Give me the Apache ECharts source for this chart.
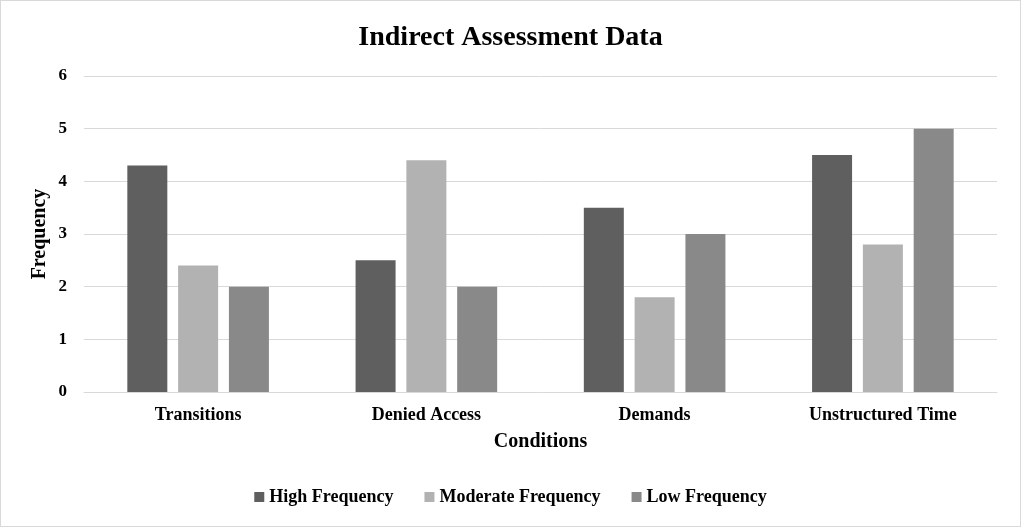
<!DOCTYPE html>
<html><head><meta charset="utf-8">
<script src="https://cdn.jsdelivr.net/npm/echarts@6/dist/echarts.min.js"></script>
<style>html,body{margin:0;padding:0;background:#fff}#c{width:1021px;height:527px;box-sizing:border-box;border:1px solid #d9d9d9}</style>
</head><body><div id="c"></div>
<script>
const categories = ['Transitions', 'Denied Access', 'Demands', 'Unstructured Time'];
const highFrequency = [4.3, 2.5, 3.5, 4.5];
const moderateFrequency = [2.4, 4.4, 1.8, 2.8];
const lowFrequency = [2.0, 2.0, 3.0, 5.0];
const yTicks = [0, 1, 2, 3, 4, 5, 6];

const font = 'Liberation Serif, Times New Roman, serif';
const chart = echarts.init(document.getElementById('c'), null, {renderer: 'canvas'});
const mk = (name, data, color) => ({
  name, type: 'bar', data, barWidth: 40, barGap: '27%',
  itemStyle: {color}
});
chart.setOption({
  animation: false,
  textStyle: {fontFamily: font},
  title: {text: 'Indirect Assessment Data', left: 'center', top: 18,
    textStyle: {fontFamily: font, fontSize: 28, fontWeight: 'bold', color: '#000'}},
  legend: {bottom: 15, left: 'center', itemWidth: 10, itemHeight: 10, itemGap: 31,
    icon: 'rect',
    textStyle: {fontFamily: font, fontSize: 18, fontWeight: 'bold', color: '#000'}},
  grid: {left: 83, right: 23, top: 75, bottom: 134, containLabel: false},
  xAxis: {type: 'category', data: categories, name: 'Conditions', nameLocation: 'middle', nameGap: 40,
    nameMoveOverlap: false,
    nameTextStyle: {fontFamily: font, fontSize: 20, fontWeight: 'bold', color: '#000'},
    axisLine: {lineStyle: {color: '#d9d9d9', width: 1}}, axisTick: {show: false},
    axisLabel: {fontFamily: font, fontSize: 18, fontWeight: 'bold', color: '#000', margin: 14}},
  yAxis: {type: 'value', min: yTicks[0], max: yTicks[yTicks.length - 1], interval: 1,
    name: 'Frequency', nameLocation: 'middle', nameGap: 34, nameMoveOverlap: false,
    nameTextStyle: {fontFamily: font, fontSize: 20, fontWeight: 'bold', color: '#000'},
    axisLine: {show: false}, axisTick: {show: false},
    splitLine: {lineStyle: {color: '#d9d9d9', width: 1}},
    axisLabel: {fontFamily: font, fontSize: 17, fontWeight: 'bold', color: '#000', margin: 17}},
  series: [
    mk('High Frequency', highFrequency, '#5f5f5f'),
    mk('Moderate Frequency', moderateFrequency, '#b2b2b2'),
    mk('Low Frequency', lowFrequency, '#898989')
  ]
});
</script></body></html>
